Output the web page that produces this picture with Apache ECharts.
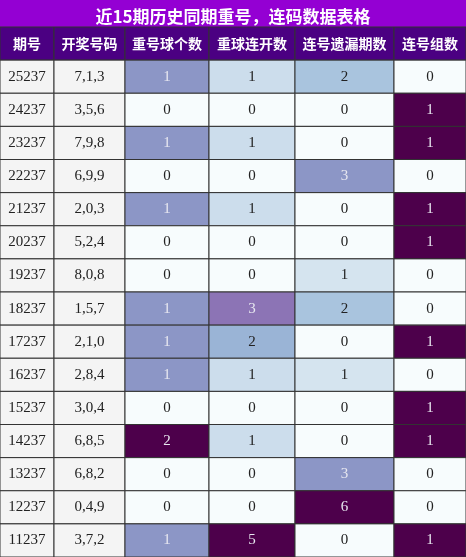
<!DOCTYPE html>
<html><head><meta charset="utf-8">
<script src="https://cdn.jsdelivr.net/npm/echarts@6/dist/echarts.min.js"></script>
<style>html,body{margin:0;padding:0;background:#fff}#c{width:466px;height:557px}</style>
</head><body><div id="c"></div>
<script>
var title = '近15期历史同期重号，连码数据表格';
var headers = ['期号','开奖号码','重号球个数','重球连开数','连号遗漏期数','连号组数'];
var periods = ['25237','24237','23237','22237','21237','20237','19237','18237','17237','16237','15237','14237','13237','12237','11237'];
var numbers = ['7,1,3','3,5,6','7,9,8','6,9,9','2,0,3','5,2,4','8,0,8','1,5,7','2,1,0','2,8,4','3,0,4','6,8,5','6,8,2','0,4,9','3,7,2'];
var repeatCount = [1,0,1,0,1,0,0,1,1,1,0,2,0,0,1];
var repeatStreak = [1,0,1,0,1,0,0,3,2,1,0,1,0,0,5];
var consecMiss = [2,0,0,3,0,0,1,2,0,1,0,0,3,6,0];
var consecGroups = [0,1,1,0,1,1,0,0,1,0,1,1,0,0,1];

var colEdges = [0,54,125,209,295,394,466];
var palette = ['#f7fcfd','#e0ecf4','#bfd3e6','#9ebcda','#8c96c6','#8c6bb1','#88419d','#810f7c','#4d004b'];
var numCols = [repeatCount, repeatStreak, consecMiss, consecGroups];

var cells = [];
for (var c = 0; c < 6; c++) cells.push([c, 0, headers[c], 'h']);
for (var r = 0; r < periods.length; r++) {
  cells.push([0, r+1, periods[r], 't']);
  cells.push([1, r+1, numbers[r], 't']);
  for (var k = 0; k < 4; k++) {
    var arr = numCols[k], mx = Math.max.apply(null, arr);
    cells.push([k+2, r+1, String(arr[r]), 'v', mx ? arr[r]/mx : 0]);
  }
}
function colorFor(t){
  var p = t*8, i = Math.floor(p), f = p - i;
  if (i >= 8) return palette[8];
  var a = echarts.color.parse(palette[i]), b = echarts.color.parse(palette[i+1]);
  return 'rgb(' + [0,1,2].map(function(j){return Math.round(a[j]+(b[j]-a[j])*f);}).join(',') + ')';
}
var chart = echarts.init(document.getElementById('c'));
chart.setOption({
  animation:false,
  title:{text:title,left:'center',top:3,textStyle:{color:'#fff',fontSize:17,fontWeight:'bold',fontFamily:'Noto Sans CJK SC'}},
  graphic:[{type:'rect',z:-1,shape:{x:0,y:0,width:466,height:27},style:{fill:'#9400D3'}}],
  grid:{left:0,right:0,top:27,bottom:0},
  xAxis:{type:'value',min:0,max:466,show:false},
  yAxis:{type:'value',min:0,max:16,inverse:true,show:false},
  series:[{
    type:'custom',
    data:cells,
    renderItem:function(params, api){
      var d = cells[params.dataIndex];
      var c = d[0], r = d[1];
      var p0 = api.coord([colEdges[c], r]), p1 = api.coord([colEdges[c+1], r+1]);
      var fill, tc = '#222', font = '15px "Liberation Serif"';
      if (d[3]==='h'){ fill='#4B0082'; tc='#fff'; font='bold 14px "Noto Sans CJK SC"'; }
      else if (d[3]==='t'){ fill='#f4f4f4'; }
      else { fill=colorFor(d[4]); if (d[4]>=0.5) tc='#e8e8f0'; }
      return {type:'group',children:[
        {type:'rect',shape:{x:p0[0],y:p0[1],width:p1[0]-p0[0],height:p1[1]-p0[1]},style:{fill:fill,stroke:'#333',lineWidth:1}},
        {type:'text',style:{text:d[2],x:(p0[0]+p1[0])/2,y:(p0[1]+p1[1])/2,align:'center',verticalAlign:'middle',fill:tc,font:font}}
      ]};
    }
  }]
});
</script></body></html>
